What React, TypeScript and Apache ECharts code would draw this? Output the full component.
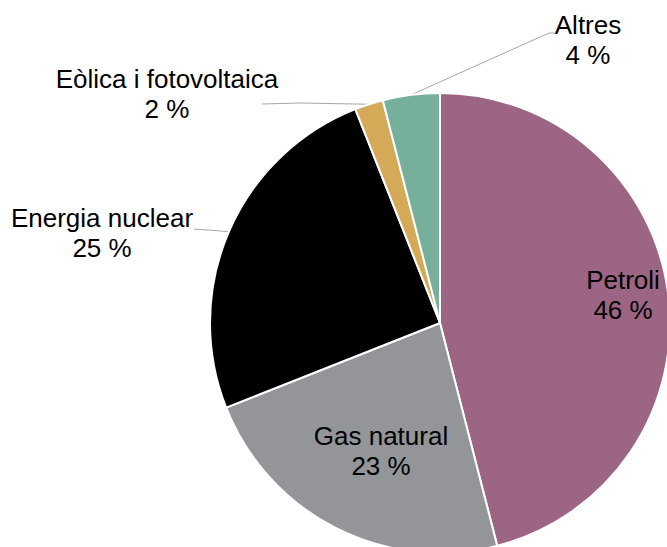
import React, { useEffect, useRef } from "react";
import * as echarts from "echarts";

const categories = ["Petroli", "Gas natural", "Energia nuclear", "Eòlica i fotovoltaica", "Altres"];
const values = [46, 23, 25, 2, 4];
const colors = ["#9b6583", "#939598", "#000000", "#d4aa58", "#76b09c"];

// label anchor positions (layout, not data)
const labelPos: [number, number][] = [
  [623, 295],
  [381, 451],
  [102, 233],
  [167, 94],
  [588, 40],
];
const lineEnds: ([number, number][] | null)[] = [
  null,
  null,
  [[194, 229]],
  [[300, 103], [262, 104]],
  [[549, 33], [555, 33]],
];

export default function App() {
  const ref = useRef<HTMLDivElement>(null);
  useEffect(() => {
    if (!ref.current) return;
    const chart = echarts.init(ref.current, undefined, { renderer: "svg" });
    chart.setOption({
      animation: false,
      backgroundColor: "#ffffff",
      series: [
        {
          type: "pie",
          center: [440, 323],
          radius: 230,
          startAngle: 90,
          clockwise: true,
          avoidLabelOverlap: false,
          itemStyle: { borderColor: "#ffffff", borderWidth: 2 },
          label: {
            show: true,
            formatter: "{b}\n{c} %",
            fontFamily: "'Liberation Sans', Arial, sans-serif",
            fontSize: 26,
            lineHeight: 30,
            color: "#000000",
            align: "center",
          },
          labelLine: {
            show: true,
            lineStyle: { color: "#a6a6a6", width: 1 },
          },
          labelLayout: (params: any) => {
            const i = params.dataIndex;
            const [x, y] = labelPos[i];
            const res: any = { x, y, align: "center", verticalAlign: "middle" };
            const ends = lineEnds[i];
            if (ends && params.labelLinePoints) {
              const start = params.labelLinePoints[0];
              const pts = [start, ...ends];
              if (pts.length === 2) pts.splice(1, 0, [(start[0] + ends[0][0]) / 2, (start[1] + ends[0][1]) / 2]);
              res.labelLinePoints = pts;
            }
            return res;
          },
          data: categories.map((name, i) => ({
            name,
            value: values[i],
            itemStyle: { color: colors[i] },
            label: i < 2 ? { position: "inside" } : { position: "outside" },
            labelLine: { show: i >= 2 },
          })),
        },
      ],
    });
    return () => chart.dispose();
  }, []);
  return (
    <div
      ref={ref}
      style={{ position: "fixed", left: 0, top: 0, width: 667, height: 547 }}
    />
  );
}
